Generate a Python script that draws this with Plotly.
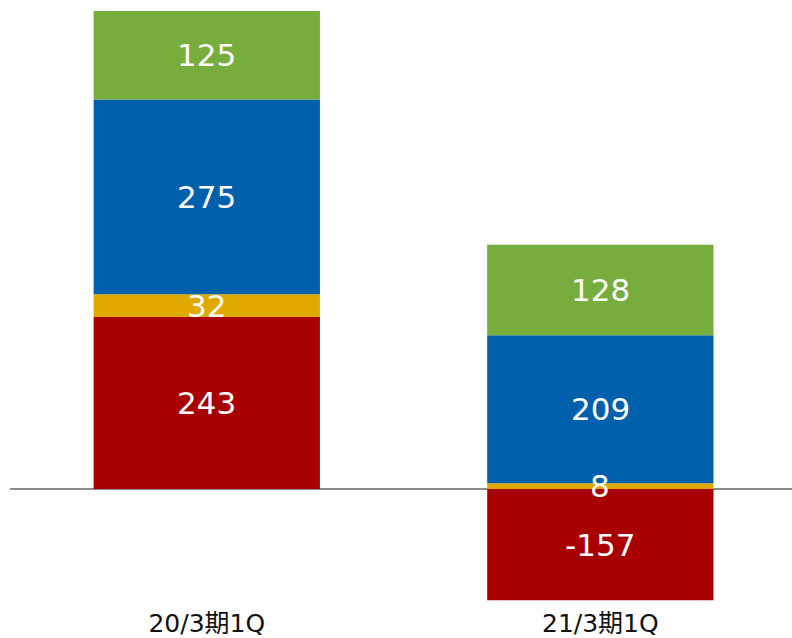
import plotly.graph_objects as go

# Quarterly breakdown (stacked segments, bottom to top)
categories = ["20/3期1Q", "21/3期1Q"]
seg_red = [243, -157]
seg_yellow = [32, 8]
seg_blue = [275, 209]
seg_green = [125, 128]

series = [
    (seg_red, "#a80000"),
    (seg_yellow, "#e0a900"),
    (seg_blue, "#0060ac"),
    (seg_green, "#77ad3c"),
]

font_family = "DejaVu Sans, Noto Sans CJK JP, sans-serif"

fig = go.Figure()
for values, color in series:
    fig.add_trace(go.Bar(
        x=categories,
        y=values,
        width=0.575,
        marker=dict(color=color, line=dict(width=0)),
        hoverinfo="skip",
    ))

# Value labels at the middle of each stacked segment, drawn above all bars
pos_base = [0.0] * len(categories)
neg_base = [0.0] * len(categories)
for values, _ in series:
    for i, v in enumerate(values):
        if v >= 0:
            mid = pos_base[i] + v / 2
            pos_base[i] += v
        else:
            mid = neg_base[i] + v / 2
            neg_base[i] += v
        fig.add_annotation(
            x=categories[i], y=mid, text=str(v), showarrow=False,
            font=dict(color="white", size=31, family=font_family),
            xanchor="center", yanchor="middle",
        )

fig.update_layout(
    width=792,
    height=638,
    barmode="relative",
    showlegend=False,
    plot_bgcolor="white",
    paper_bgcolor="white",
    margin=dict(l=10, r=0, t=0, b=32),
    font=dict(family=font_family),
    xaxis=dict(
        range=[-0.5, 1.487],
        showgrid=False,
        showline=False,
        ticks="",
        automargin=False,
        tickfont=dict(size=25, color="#111111", family=font_family),
    ),
    yaxis=dict(
        range=[-165.2, 690.6],
        showgrid=False,
        showticklabels=False,
        ticks="",
        automargin=False,
        zeroline=True,
        zerolinecolor="#8c8c8c",
        zerolinewidth=2,
    ),
)

fig.write_html("out.html")
